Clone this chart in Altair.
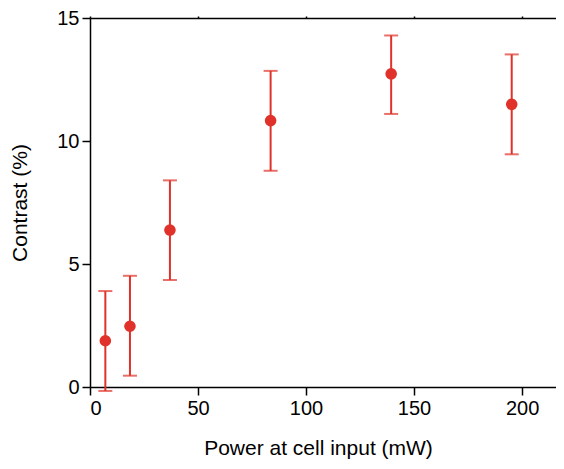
import altair as alt
import pandas as pd

power = [7.1, 18.5, 37.0, 83.6, 139.4, 195.2]
contrast = [1.88, 2.47, 6.38, 10.83, 12.73, 11.49]
err_low = [-0.16, 0.46, 4.35, 8.79, 11.10, 9.46]
err_high = [3.90, 4.52, 8.40, 12.85, 14.29, 13.52]
x_ticks = [0, 50, 100, 150, 200]
y_ticks = [0, 5, 10, 15]

df = pd.DataFrame({"power": power, "contrast": contrast, "lo": err_low, "hi": err_high})

RED = "#e0322a"
FONT = "Liberation Sans"

xscale = alt.Scale(domain=[0, 215.7], nice=False, zero=False)
yscale = alt.Scale(domain=[0, 15], nice=False)

x_axis = alt.Axis(title="Power at cell input (mW)", values=x_ticks,
                  orient="bottom", tickSize=8, tickWidth=1.5, domainWidth=1.5,
                  domainColor="black", tickColor="black", labelFontSize=20,
                  labelFont=FONT, labelColor="black", labelPadding=3,
                  titleFontSize=21, titleFont=FONT, titleColor="black",
                  titleFontWeight="normal", titleBaseline="alphabetic",
                  titleX=228, titleY=67, grid=False)
y_axis = alt.Axis(title="Contrast (%)", values=y_ticks, orient="left",
                  tickSize=8, tickWidth=1.5, domainWidth=1.5, domainColor="black",
                  tickColor="black", labelFontSize=20, labelFont=FONT,
                  labelColor="black", labelPadding=3, titleFontSize=21,
                  titleFont=FONT, titleColor="black", titleFontWeight="normal",
                  titlePadding=26, grid=False)
top_axis = alt.Axis(title=None, orient="top", labels=False, values=x_ticks,
                    tickSize=2, tickWidth=1.5, domainWidth=1.5, domainColor="black",
                    tickColor="black", grid=False)

base = alt.Chart(df)

rules = base.mark_rule(color=RED, strokeWidth=2, clip=False).encode(
    x=alt.X("power:Q", scale=xscale, axis=x_axis),
    y=alt.Y("lo:Q", scale=yscale, axis=y_axis), y2="hi:Q")

caps_hi = base.mark_tick(color=RED, orient="horizontal", size=14, thickness=2, clip=False).encode(
    x=alt.X("power:Q", scale=xscale, axis=None), y=alt.Y("hi:Q", scale=yscale, axis=y_axis))
caps_lo = base.mark_tick(color=RED, orient="horizontal", size=14, thickness=2, clip=False).encode(
    x=alt.X("power:Q", scale=xscale, axis=None), y=alt.Y("lo:Q", scale=yscale, axis=y_axis))

points = base.mark_circle(color=RED, size=135, opacity=1, clip=False).encode(
    x=alt.X("power:Q", scale=xscale, axis=top_axis),
    y=alt.Y("contrast:Q", scale=yscale, axis=y_axis))

chart = alt.layer(rules, caps_hi, caps_lo, points).resolve_axis(x="independent").properties(
    width=466, height=369,
    autosize=alt.AutoSizeParams(type="none"),
    padding={"left": 82, "top": 10, "right": 0, "bottom": 72},
).configure_view(stroke=None).configure(background="white")

chart.save("out.html", embed_options={"renderer": "svg", "actions": False})
